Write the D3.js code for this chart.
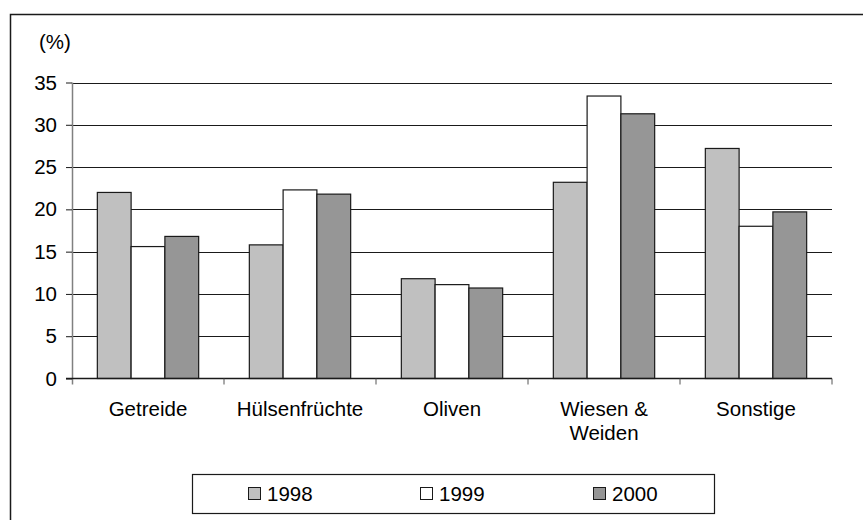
<!DOCTYPE html>
<html>
<head>
<meta charset="utf-8">
<script src="https://cdn.jsdelivr.net/npm/d3@7"></script>
<style>
  html, body { margin: 0; padding: 0; background: #fff; }
  svg { display: block; font-family: "Liberation Sans", Arial, sans-serif; }
</style>
</head>
<body>
<svg id="chart" width="863" height="520"></svg>
<script>
// Anteil der Flächennutzung (%) nach Kultur und Jahr
const categories = ["Getreide", "Hülsenfrüchte", "Oliven", "Wiesen & Weiden", "Sonstige"];
const categoryLines = [["Getreide"], ["Hülsenfrüchte"], ["Oliven"], ["Wiesen &", "Weiden"], ["Sonstige"]];
const years = ["1998", "1999", "2000"];
const values1998 = [22.0, 15.8, 11.8, 23.2, 27.2];
const values1999 = [15.6, 22.3, 11.1, 33.4, 18.0];
const values2000 = [16.8, 21.8, 10.7, 31.3, 19.7];
const yTicks = [0, 5, 10, 15, 20, 25, 30, 35];
const unitLabel = "(%)";

const seriesValues = [values1998, values1999, values2000];
const fills = ["#c0c0c0", "#ffffff", "#969696"];
const fontSize = 20.5;

const svg = d3.select("#chart");
const plot = { left: 72, right: 832, top: 82.5, bottom: 378.5 };

// outer frame
svg.append("rect")
  .attr("x", 10.5).attr("y", 14.5)
  .attr("width", 900).attr("height", 600)
  .attr("fill", "none").attr("stroke", "#1a1a1a").attr("stroke-width", 1.5);

const x0 = d3.scaleBand().domain(categories).range([plot.left, plot.right]).padding(0);
const bw = x0.bandwidth();
const gap = bw * 0.75 / 4.5;
const x1 = d3.scaleBand().domain(years).range([gap, bw - gap]).padding(0);
const y = d3.scaleLinear().domain([0, 35]).range([plot.bottom, plot.top]);

// horizontal gridlines
svg.append("g").selectAll("line")
  .data(yTicks.filter(t => t > 0))
  .join("line")
  .attr("x1", plot.left).attr("x2", plot.right)
  .attr("y1", d => Math.round(y(d)) + 0.5).attr("y2", d => Math.round(y(d)) + 0.5)
  .attr("stroke", "#1a1a1a").attr("stroke-width", 1);

// bars
const groups = svg.append("g").selectAll("g")
  .data(categories)
  .join("g")
  .attr("transform", d => `translate(${x0(d)},0)`);

groups.selectAll("rect")
  .data((c, ci) => years.map((yr, si) => ({ yr, si, v: seriesValues[si][ci] })))
  .join("rect")
  .attr("x", d => x1(d.yr))
  .attr("width", x1.bandwidth())
  .attr("y", d => y(d.v))
  .attr("height", d => y(0) - y(d.v))
  .attr("fill", d => fills[d.si])
  .attr("stroke", "#1a1a1a").attr("stroke-width", 1.2);

// y axis
const yAxis = d3.axisLeft(y).tickValues(yTicks).tickSize(6).tickPadding(9).tickFormat(d3.format("d"));
const gy = svg.append("g").attr("transform", `translate(${plot.left},0)`).call(yAxis);
gy.select(".domain").attr("stroke", "#808080").attr("stroke-width", 1.5)
  .attr("d", `M0.5,${plot.top}V${plot.bottom + 6}`);
gy.selectAll(".tick line").attr("stroke", "#1a1a1a");
gy.selectAll(".tick text").attr("font-size", fontSize).attr("fill", "#000")
  .attr("font-family", "Liberation Sans, Arial, sans-serif");

// x axis baseline and category separators
svg.append("line")
  .attr("x1", plot.left - 6).attr("x2", plot.right)
  .attr("y1", plot.bottom).attr("y2", plot.bottom)
  .attr("stroke", "#1a1a1a").attr("stroke-width", 1.5);
const bounds = categories.map(c => x0(c)).concat([plot.right]);
svg.append("g").selectAll("line")
  .data(bounds.slice(1))
  .join("line")
  .attr("x1", d => d).attr("x2", d => d)
  .attr("y1", plot.bottom).attr("y2", plot.bottom + 6)
  .attr("stroke", "#555").attr("stroke-width", 1);

// category labels
const labels = svg.append("g").selectAll("text")
  .data(categories)
  .join("text")
  .attr("x", d => x0(d) + bw / 2)
  .attr("y", 416)
  .attr("text-anchor", "middle")
  .attr("font-size", fontSize)
  .attr("fill", "#000");
labels.each(function(d, i) {
  const t = d3.select(this);
  categoryLines[i].forEach((line, li) => {
    t.append("tspan").attr("x", x0(d) + bw / 2).attr("dy", li === 0 ? 0 : 24).text(line);
  });
});

// unit label
svg.append("text")
  .attr("x", 39).attr("y", 49)
  .attr("font-size", fontSize).attr("fill", "#000")
  .text(unitLabel);

// legend
const legend = svg.append("g");
legend.append("rect")
  .attr("x", 192.5).attr("y", 474.5).attr("width", 522).attr("height", 39)
  .attr("fill", "#fff").attr("stroke", "#1a1a1a").attr("stroke-width", 1.2);
const legendX = [248, 420, 593];
const items = legend.selectAll("g.item")
  .data(years)
  .join("g").attr("class", "item")
  .attr("transform", (d, i) => `translate(${legendX[i]},487)`);
items.append("rect")
  .attr("x", 0.5).attr("y", 0.5).attr("width", 12).attr("height", 12)
  .attr("fill", (d, i) => fills[i]).attr("stroke", "#1a1a1a").attr("stroke-width", 1);
items.append("text")
  .attr("x", 19).attr("y", 13.5)
  .attr("font-size", fontSize).attr("fill", "#000")
  .text(d => d);
</script>
</body>
</html>
